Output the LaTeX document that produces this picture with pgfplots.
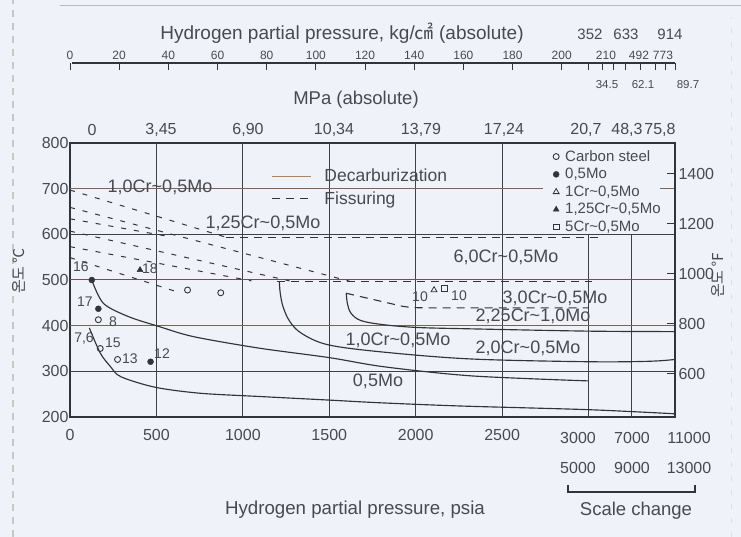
\documentclass[border=0pt]{standalone}
\usepackage{fontspec}
\setmainfont{Liberation Sans}
\newfontfamily\cjk{Noto Sans CJK KR}
\usepackage{pgfplots}
\pgfplotsset{compat=1.18}
\definecolor{bg}{RGB}{240,242,250}
\definecolor{ink}{RGB}{50,52,58}
\definecolor{txt}{RGB}{72,74,80}
\definecolor{gridc}{RGB}{62,64,70}
\definecolor{brn}{RGB}{125,100,88}
\definecolor{plum}{RGB}{125,72,92}
\definecolor{oliv}{RGB}{112,104,84}
\definecolor{tan}{RGB}{170,135,100}
\newcommand{\fs}[1]{\fontsize{#1}{#1}\selectfont}
\newcommand{\tl}{\textasciitilde}
\begin{document}
\begin{tikzpicture}[x=1pt,y=1pt]
\fill[bg] (0,0) rectangle (741,537);
\draw[black!22, line width=1.2pt, dash pattern=on 7pt off 6pt] (13,0) -- (13,537);
\draw[black!28, line width=0.8pt] (60,532) -- (741,532);
\draw[black!12, line width=1pt, dash pattern=on 5pt off 9pt] (731,0) -- (731,520);

\begin{axis}[
  scale only axis, width=605pt, height=274pt,
  at={(70pt,120pt)}, anchor=south west,
  xmin=0, xmax=3500, ymin=200, ymax=800,
  clip=false,
  axis line style={ink, line width=1.1pt},
  xtick={0,500,1000,1500,2000,2500},
  xticklabels={0,500,1000,1500,2000,2500},
  ytick={200,300,400,500,600,700,800},
  major tick length=0pt,
  tick label style={font=\fs{16}, text=txt},
  xticklabel style={yshift=-9pt},
  yticklabel style={xshift=2pt},
  /pgf/number format/assume math mode=true,
  /pgf/number format/set thousands separator={},
  legend style={at={(axis description cs:0.7983,0.981)}, anchor=north west,
    draw=none, fill=none, font=\fs{15}, text=txt, inner sep=0pt, row sep=1.6pt,
    /tikz/every odd column/.append style={column sep=4pt}},
  legend cell align=left,
]
% grid
\pgfplotsinvokeforeach{500,1000,1500,2000,2500}{\draw[gridc, line width=1pt] (axis cs:#1,200) -- (axis cs:#1,800);}
\pgfplotsinvokeforeach{3000,3250}{\draw[gridc, line width=1pt] (axis cs:#1,200) -- (axis cs:#1,600);}
\draw[gridc, line width=1pt] (axis cs:0,300) -- (axis cs:3500,300);
\draw[oliv, line width=1pt] (axis cs:0,400) -- (axis cs:3500,400);
\draw[plum, line width=1pt] (axis cs:0,500) -- (axis cs:3500,500);
\draw[gridc, line width=1pt] (axis cs:0,600) -- (axis cs:3500,600);
\draw[brn, line width=1pt] (axis cs:0,700) -- (axis cs:2738,700);
\draw[brn, line width=1pt] (axis cs:3413,700) -- (axis cs:3500,700);

% solid curves
\addplot[forget plot, ink, line width=1.15pt, smooth, tension=0.5] coordinates {
 (112,395) (175,340) (235,310) (295,288) (494,265) (753,252) (1090,245) (1500,237) (1800,231) (2265,224) (3000,216) (3500,207)};
\addplot[forget plot, ink, line width=1.15pt, smooth, tension=0.5] coordinates {
 (126,500) (193,449) (337,420) (516,398) (714,376) (1090,351) (1500,330) (1816,310) (2323,290) (3000,279)};
\addplot[forget plot, ink, line width=1.15pt, smooth, tension=0.55] coordinates {
 (1211,497) (1216,472) (1232,442) (1270,410) (1340,383) (1494,358) (1816,342) (2323,327) (3000,321) (3350,322) (3500,326)};
\addplot[forget plot, ink, line width=1.15pt, smooth, tension=0.55] coordinates {
 (1598,471) (1605,448) (1626,427) (1684,411) (1816,402) (2011,396) (2323,393) (3000,388) (3500,387)};

% dashed (fissuring)
\addplot[forget plot, ink, line width=1.1pt, dash pattern=on 8pt off 6pt, smooth, tension=0.5] coordinates {
 (1598,471) (1700,462) (1780,455) (1860,448) (1950,441) (2100,439) (3000,439)};
\addplot[forget plot, ink, line width=1.1pt, dash pattern=on 8pt off 6pt] coordinates {(900,593) (3083,593)};
\addplot[forget plot, ink, line width=1.1pt, dash pattern=on 8pt off 6pt] coordinates {(1200,497) (3017,497)};
\addplot[forget plot, ink, line width=1pt, dash pattern=on 5pt off 8pt] coordinates {(0,697) (900,594)};
\addplot[forget plot, ink, line width=1pt, dash pattern=on 5pt off 8pt] coordinates {(0,659) (1620,497)};
\addplot[forget plot, ink, line width=1pt, dash pattern=on 5pt off 8pt] coordinates {(0,634) (560,596)};
\addplot[forget plot, ink, line width=1pt, dash pattern=on 5pt off 8pt] coordinates {(0,607) (1270,498)};
\addplot[forget plot, ink, line width=1pt, dash pattern=on 5pt off 8pt] coordinates {(0,573) (1050,498)};
\addplot[forget plot, ink, line width=1pt, dash pattern=on 5pt off 8pt] coordinates {(0,549) (620,474)};

% data points
\addplot[only marks, mark=o, mark size=3pt, ink, line width=0.9pt] coordinates {(164,413) (175,350) (275,326) (680,478) (872,472)};
\addlegendentry{Carbon steel}
\addplot[only marks, mark=*, mark size=3pt, ink] coordinates {(126,500) (164,437) (466,321)};
\addlegendentry{0,5Mo}
\addplot[only marks, mark=triangle, mark size=3.4pt, ink, line width=0.8pt] coordinates {(2106,478)};
\addlegendentry{1Cr\tl 0,5Mo}
\addplot[only marks, mark=triangle*, mark size=3.4pt, ink] coordinates {(405,522)};
\addlegendentry{1,25Cr\tl 0,5Mo}
\addplot[only marks, mark=square, mark size=2.8pt, ink, line width=0.8pt] coordinates {(2165,481)};
\addlegendentry{5Cr\tl 0,5Mo}
\end{axis}

\begin{axis}[
  scale only axis, width=605pt, height=274pt,
  at={(70pt,120pt)}, anchor=south west,
  xmin=0, xmax=3500, ymin=427, ymax=1523,
  hide x axis, axis y line*=right,
  ytick pos=right, yticklabel pos=right,
  ytick={600,800,1000,1200,1400},
  tick align=inside, major tick length=8pt,
  tick style={ink, line width=1pt},
  axis line style={ink, line width=1.1pt},
  tick label style={font=\fs{16}, text=txt},
  /pgf/number format/assume math mode=true,
  /pgf/number format/set thousands separator={},
  legend style={at={(axis description cs:0.3322,0.912)}, anchor=north west,
    draw=none, fill=none, font=\fs{17.5}, text=txt, inner sep=0pt, row sep=4pt,
    /tikz/every odd column/.append style={column sep=11pt}},
  legend cell align=left,
  legend image code/.code={\draw[#1] (0pt,0pt) -- (39pt,0pt);},
]
\addlegendimage{tan, line width=1.3pt}
\addlegendentry{Decarburization}
\addlegendimage{ink, line width=1.2pt, dash pattern=on 8pt off 6pt}
\addlegendentry{Fissuring}
\end{axis}

% top kg/cm2 scale
\draw[ink, line width=1.2pt] (72,474) -- (675,474);
\foreach \kk in {0,20,40,60,80,100,120,140,160,180,200}{
  \pgfmathsetmacro{\px}{70+2.4585*\kk}
  \draw[ink, line width=1pt] (\px,474) -- ++(0,-7);
  \node[font=\fs{12}, text=txt] at (\px,482) {\kk};
}
\foreach \px in {588,602,613,625,640,655,665,675}{
  \draw[ink, line width=1pt] (\px,474) -- ++(0,-7);
}
\node[font=\fs{12}, text=txt] at (606,482) {210};
\node[font=\fs{12}, text=txt] at (639,482) {492};
\node[font=\fs{12}, text=txt] at (663,482) {773};
\node[font=\fs{15}, text=txt] at (590,503) {352};
\node[font=\fs{15}, text=txt] at (626,503) {633};
\node[font=\fs{15}, text=txt] at (670,503) {914};
\node[font=\fs{11.5}, text=txt] at (607,452) {34.5};
\node[font=\fs{11.5}, text=txt] at (643,452) {62.1};
\node[font=\fs{11.5}, text=txt] at (688,452) {89.7};
\node[font=\fs{19}, text=txt] at (342,504) {Hydrogen partial pressure, kg/{\cjk ㎠} (absolute)};
\node[font=\fs{18.5}, text=txt] at (356,437) {MPa (absolute)};

% MPa values
\node[font=\fs{16}, text=txt] at (92,407) {0};
\node[font=\fs{16}, text=txt] at (161,407) {3,45};
\node[font=\fs{16}, text=txt] at (248,407) {6,90};
\node[font=\fs{16}, text=txt] at (334,407) {10,34};
\node[font=\fs{16}, text=txt] at (421,407) {13,79};
\node[font=\fs{16}, text=txt] at (504,407) {17,24};
\node[font=\fs{16}, text=txt] at (586,407) {20,7};
\node[font=\fs{16}, text=txt] at (627,407) {48,3};
\node[font=\fs{16}, text=txt] at (660,407) {75,8};

% bottom scale change
\node[font=\fs{16}, text=txt] at (578,99) {3000};
\node[font=\fs{16}, text=txt] at (632,99) {7000};
\node[font=\fs{16}, text=txt] at (689,99) {11000};
\node[font=\fs{16}, text=txt] at (578,69) {5000};
\node[font=\fs{16}, text=txt] at (632,69) {9000};
\node[font=\fs{16}, text=txt] at (689,69) {13000};
\draw[ink, line width=1.1pt] (568,52) -- (568,45) -- (695,45) -- (695,52);
\node[font=\fs{18.5}, text=txt] at (636,26) {Scale change};
\node[font=\fs{18.7}, text=txt] at (355,27) {Hydrogen partial pressure, psia};

% axis titles
\node[rotate=90, font=\cjk\fs{15}, text=txt] at (19,266) {온도 ℃};
\node[rotate=90, font=\cjk\fs{15}, text=txt] at (718,262) {온도 ℉};

% curve labels
\node[font=\fs{18}, text=txt] at (160,350) {1,0Cr\tl 0,5Mo};
\node[font=\fs{18}, text=txt] at (263,314) {1,25Cr\tl 0,5Mo};
\node[font=\fs{18}, text=txt] at (506,280) {6,0Cr\tl 0,5Mo};
\node[font=\fs{18}, text=txt] at (555,239) {3,0Cr\tl 0,5Mo};
\node[font=\fs{18}, text=txt] at (533,221) {2,25Cr\tl 1,0Mo};
\node[font=\fs{18}, text=txt] at (398,197) {1,0Cr\tl 0,5Mo};
\node[font=\fs{18}, text=txt] at (528,189) {2,0Cr\tl 0,5Mo};
\node[font=\fs{18}, text=txt] at (378,156) {0,5Mo};

% point labels
\node[font=\fs{14}, text=txt] at (81,270) {16};
\node[font=\fs{14}, text=txt] at (85,235) {17};
\node[font=\fs{14}, text=txt] at (113,215) {8};
\node[font=\fs{14}, text=txt] at (84,198) {7,6};
\node[font=\fs{14}, text=txt] at (113,194) {15};
\node[font=\fs{14}, text=txt] at (130,178) {13};
\node[font=\fs{14}, text=txt] at (162,183) {12};
\node[font=\fs{14}, text=txt] at (150,268) {18};
\node[font=\fs{14}, text=txt] at (420,240) {10};
\node[font=\fs{14}, text=txt] at (459,241) {10};

\pgfresetboundingbox
\path[use as bounding box] (0,0) rectangle (741,537);
\end{tikzpicture}
\end{document}
